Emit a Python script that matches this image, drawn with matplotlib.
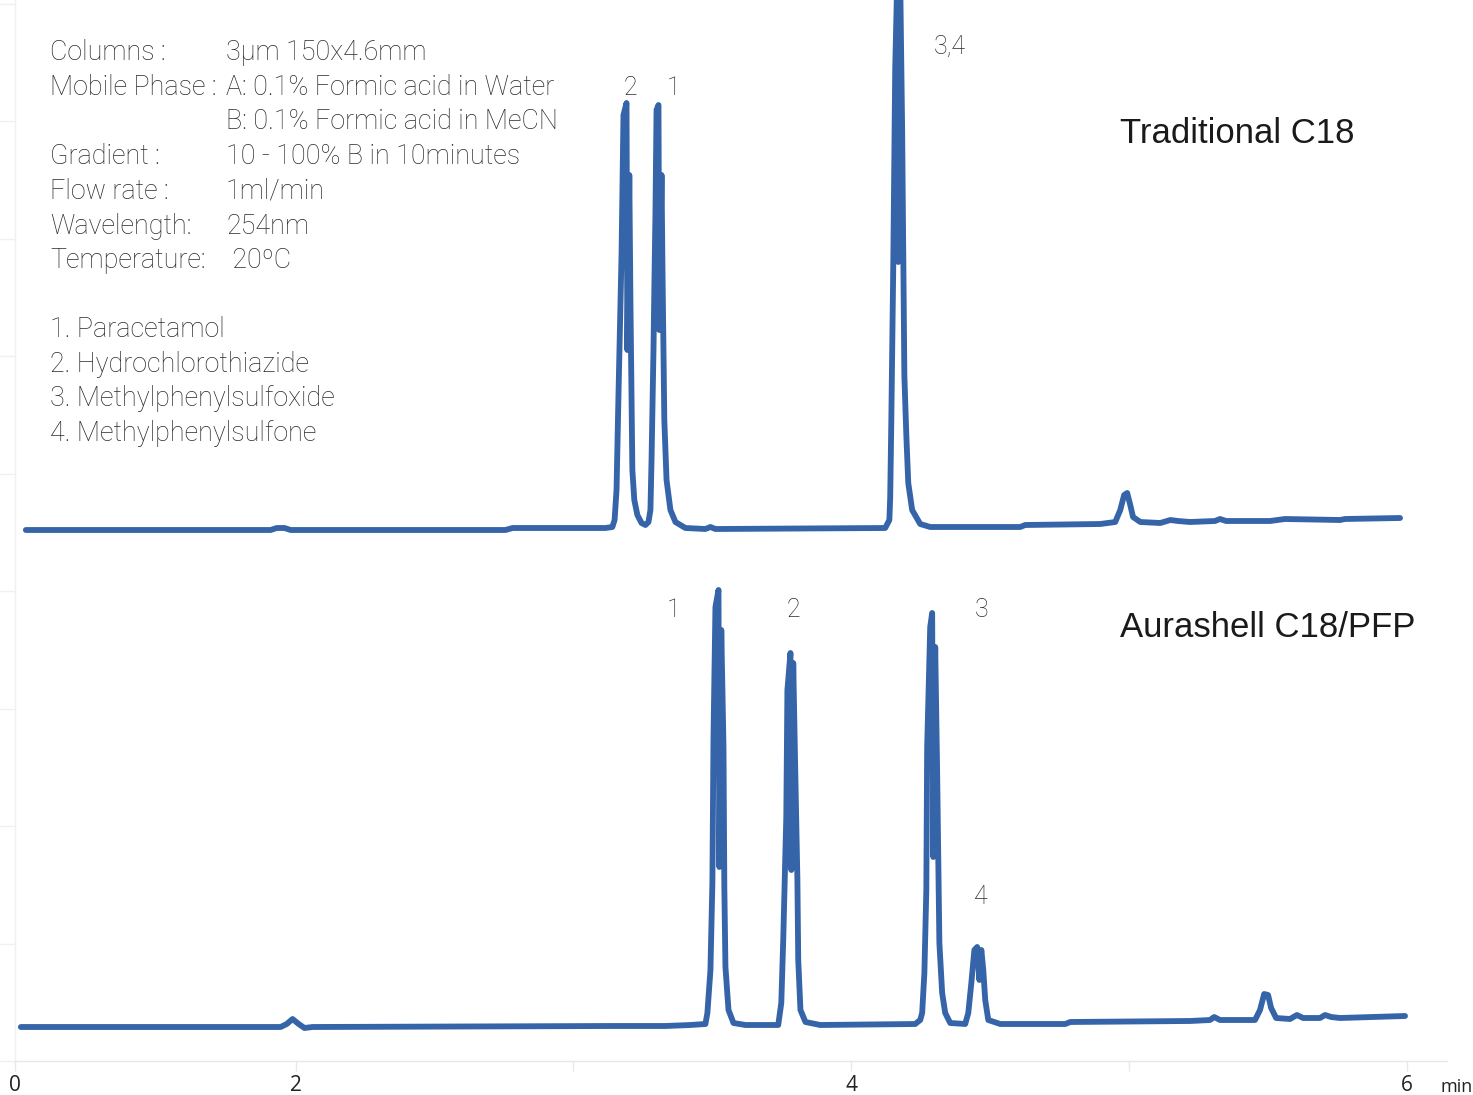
import matplotlib
matplotlib.use("Agg")
import matplotlib.pyplot as plt
import numpy as np

# -------- Chromatogram data (time in min, signal above own baseline) -------- #
c18_time = [1.029, 1.910, 1.932, 1.960, 1.982, 2.755, 2.781, 3.115, 3.140, 3.148,
            3.155, 3.162, 3.173, 3.180, 3.191, 3.194, 3.201, 3.205, 3.212, 3.219,
            3.230, 3.245, 3.259, 3.270, 3.277, 3.281, 3.288, 3.291, 3.295, 3.299,
            3.306, 3.309, 3.317, 3.320, 3.327, 3.335, 3.349, 3.367, 3.403, 3.475,
            3.493, 3.511, 4.122, 4.137, 4.140, 4.144, 4.151, 4.158, 4.166, 4.169,
            4.176, 4.183, 4.191, 4.198, 4.205, 4.219, 4.248, 4.284, 4.608, 4.626,
            4.896, 4.950, 4.968, 4.982, 4.993, 5.004, 5.014, 5.040, 5.112, 5.148,
            5.176, 5.219, 5.309, 5.327, 5.349, 5.507, 5.561, 5.759, 5.777, 5.975]
c18_signal = [0, 0, 2, 2, 0, 0, 2, 2, 3, 10,
              40, 135, 275, 415, 427, 180, 355, 230, 60, 30,
              15, 7, 5, 8, 20, 70, 180, 240, 315, 420,
              425, 200, 355, 270, 110, 50, 20, 8, 2, 1,
              3, 1, 2, 10, 33, 109, 264, 461, 560, 268,
              550, 400, 154, 95, 47, 20, 6, 3, 3, 5,
              6, 8, 20, 35, 37, 25, 13, 8, 7, 10,
              9, 8, 9, 11, 9, 9, 11, 10, 11, 12]

pfp_time = [1.011, 1.946, 1.968, 1.989, 2.011, 2.032, 2.061, 3.133, 3.331, 3.421,
            3.475, 3.482, 3.493, 3.500, 3.504, 3.511, 3.522, 3.525, 3.532, 3.540,
            3.543, 3.547, 3.558, 3.576, 3.619, 3.737, 3.748, 3.755, 3.766, 3.770,
            3.781, 3.784, 3.791, 3.798, 3.806, 3.809, 3.817, 3.835, 3.888, 4.230,
            4.248, 4.255, 4.263, 4.270, 4.273, 4.284, 4.291, 4.295, 4.302, 4.309,
            4.317, 4.327, 4.338, 4.356, 4.410, 4.421, 4.432, 4.443, 4.453, 4.461,
            4.468, 4.475, 4.482, 4.493, 4.536, 4.770, 4.788, 5.219, 5.291, 5.306,
            5.327, 5.453, 5.471, 5.486, 5.500, 5.511, 5.529, 5.579, 5.604, 5.626,
            5.687, 5.705, 5.727, 5.759, 5.993]
pfp_signal = [0, 0, 3, 8, 3, -1, 0, 1, 1, 2,
              3, 14, 57, 144, 290, 420, 437, 160, 397, 280,
              140, 60, 17, 4, 2, 2, 24, 87, 210, 337,
              374, 157, 364, 260, 147, 67, 17, 5, 2, 3,
              7, 14, 54, 137, 280, 400, 414, 170, 380, 254,
              84, 34, 14, 4, 3, 14, 44, 77, 80, 47,
              77, 57, 27, 7, 3, 3, 5, 6, 7, 10,
              7, 7, 17, 33, 32, 19, 9, 8, 12, 9,
              9, 12, 10, 9, 11]

c18_offset = 531
pfp_offset = 34

x_ticks = [0.99, 2, 3, 4, 5, 6]
x_tick_labels = ['0', '2', '', '4', '', '6']

conditions = [("Columns :", "3µm 150x4.6mm"),
              ("Mobile Phase :", "A: 0.1% Formic acid in Water"),
              ("", "B: 0.1% Formic acid in MeCN"),
              ("Gradient :", "10 - 100% B in 10minutes"),
              ("Flow rate :", "1ml/min"),
              ("Wavelength:", "254nm"),
              ("Temperature:", " 20\u00baC")]
compounds = ["1. Paracetamol", "2. Hydrochlorothiazide",
             "3. Methylphenylsulfoxide", "4. Methylphenylsulfone"]

# -------- Figure -------- #
W, H = 1473, 1095
fig = plt.figure(figsize=(W / 100, H / 100), dpi=100)
ax = fig.add_axes([15 / W, 34 / H, 1432 / W, 1061 / H])

line_color = '#3565a8'
ax.plot(c18_time, np.array(c18_signal) + c18_offset, color=line_color, lw=4.2,
        solid_joinstyle='round', solid_capstyle='round')
ax.plot(pfp_time, np.array(pfp_signal) + pfp_offset, color=line_color, lw=4.2,
        solid_joinstyle='round', solid_capstyle='round')

ax.set_xlim(0.993, 6.144)
ax.set_ylim(0, 1061)

# faint axes like the original
for side in ['top', 'right']:
    ax.spines[side].set_visible(False)
ax.spines['left'].set_color('#f0f0f0')
ax.spines['bottom'].set_color('#e8e8e8')
ax.spines['left'].set_linewidth(1)
ax.spines['bottom'].set_linewidth(1)

ax.set_xticks(x_ticks)
ax.set_xticklabels(x_tick_labels, fontsize=15, color='#222222', family='Open Sans')
ax.tick_params(axis='x', direction='out', length=7, width=1, color='#e8e8e8', pad=3)
ax.set_yticks(np.arange(0, 1061, 117.5))
ax.set_yticklabels([])
ax.tick_params(axis='y', direction='out', length=11, width=1, color='#f0f0f0')

fig.text(1440 / W, 1 - 1092 / H, "min", fontsize=13, color='#222222', family='Open Sans',
         ha='left', va='baseline')

# -------- Conditions text -------- #
txt = dict(fontsize=19.4, color='#2a2a2a', family='Roboto', weight='light', va='baseline')
y0 = 60
for i, (lab, val) in enumerate(conditions):
    y = y0 + i * 34.7
    fig.text(50 / W, 1 - y / H, lab, ha='left', **txt)
    fig.text(226 / W, 1 - y / H, val, ha='left', **txt)
for i, comp in enumerate(compounds):
    y = 337 + i * 34.7
    fig.text(50 / W, 1 - y / H, comp, ha='left', **txt)

# -------- Titles -------- #
fig.text(1120 / W, 1 - 143 / H, "Traditional C18", fontsize=25, color='#1a1a1a',
         family='Liberation Sans', ha='left', va='baseline')
fig.text(1120 / W, 1 - 637 / H, "Aurashell C18/PFP", fontsize=25, color='#1a1a1a',
         family='Liberation Sans', ha='left', va='baseline')

# -------- Peak labels -------- #
pk = dict(fontsize=18, color='#2a2a2a', family='Roboto', weight='light', ha='center', va='baseline')
ax.text(3.205, 966, "2", **pk)
ax.text(3.360, 966, "1", **pk)
ax.text(4.356, 1007, "3,4", **pk)
ax.text(3.360, 444, "1", **pk)
ax.text(3.791, 444, "2", **pk)
ax.text(4.468, 444, "3", **pk)
ax.text(4.468, 157, "4", **pk)

fig.savefig("out.png", dpi=100)
